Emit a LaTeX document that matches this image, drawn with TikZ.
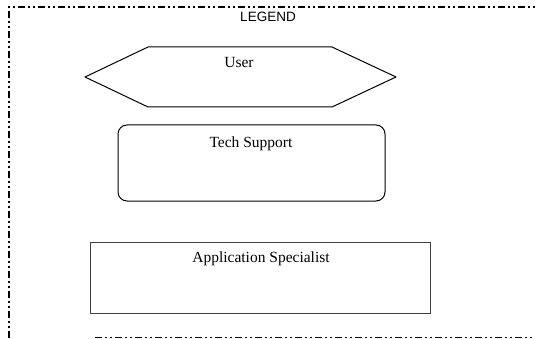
\documentclass[tikz,border=0pt]{standalone}
\usepackage{fontspec}
\setmainfont{Liberation Serif}
\newfontfamily\legendfont{Liberation Sans}
\begin{document}
\begin{tikzpicture}[x=1pt,y=-1pt,
  frame/.style={line width=1.4pt, dash pattern=on 7pt off 3pt on 2pt off 3pt on 2pt off 3pt},
  shapeline/.style={line width=1pt, line join=round},
  lbl/.style={font=\fontsize{15.5}{17}\selectfont, inner sep=0pt}]
\useasboundingbox (0,0) rectangle (535,339);
\clip (0,0) rectangle (535,339);
% outer legend frame
\draw[frame] (545,7) -- (9,7) -- (9,345);
\draw[frame] (95,337.5) -- (545,337.5);
\node[font=\legendfont\fontsize{13.5}{15}\selectfont, inner sep=0pt] (legend) at (268,16.5) {LEGEND};
% user hexagon
\draw[shapeline] (85,77) -- (148,47) -- (332,47) -- (396,77) -- (332,107) -- (148,107) -- cycle;
\node[lbl] (user) at (239,63) {User};
% tech support
\draw[shapeline, rounded corners=9pt] (118,125) rectangle (385,201);
\node[lbl] (tech) at (251,144) {Tech Support};
% application specialist
\draw[line width=0.7pt, draw=black!75] (90,242) rectangle (430,313);
\node[lbl] (app) at (261,259) {Application Specialist};
\end{tikzpicture}
\end{document}
